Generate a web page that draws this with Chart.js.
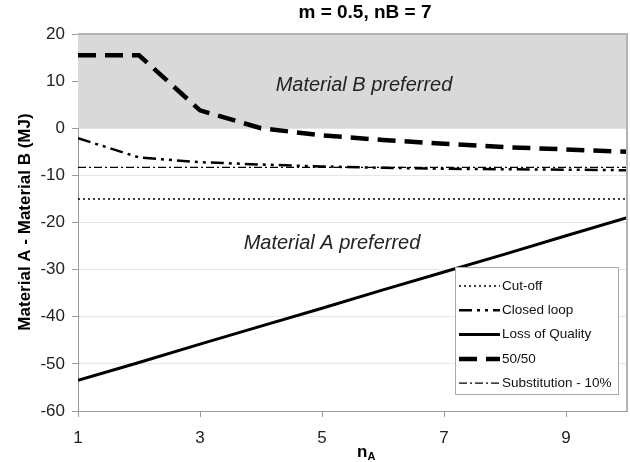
<!DOCTYPE html>
<html>
<head>
<meta charset="utf-8">
<script src="https://cdn.jsdelivr.net/npm/chart.js@4"></script>
<style>
html,body{margin:0;padding:0;background:#fff;}
canvas{display:block;}
</style>
</head>
<body>
<canvas id="c" width="630" height="462"></canvas>
<script>
const nA = [1, 2, 3, 4, 5, 6, 7, 8, 9, 10];
const xTickValues = [1, 3, 5, 7, 9];
const yTickValues = [-60, -50, -40, -30, -20, -10, 0, 10, 20];
const cutOff = [-15, -15, -15, -15, -15, -15, -15, -15, -15, -15];
const closedLoop = [-2.1, -6.2, -7.2, -7.7, -8.1, -8.4, -8.6, -8.7, -8.8, -8.9];
const lossOfQuality = [-53.5, -49.7, -45.8, -42.0, -38.2, -34.3, -30.5, -26.7, -22.8, -19.0];
const fiftyFifty = [15.5, 15.5, 3.8, 0.0, -1.5, -2.5, -3.3, -4.0, -4.5, -5.0];
const substitution10 = [-8.3, -8.3, -8.3, -8.3, -8.3, -8.3, -8.3, -8.3, -8.3, -8.3];
const preferredBand = [20, 20];
const seriesNames = ['Cut-off', 'Closed loop', 'Loss of Quality', '50/50', 'Substitution - 10%'];
const chartTitle = 'm = 0.5, nB = 7';
const yTitle = 'Material A - Material B (MJ)';

const toXY = arr => arr.map((v, i) => ({x: nA[i], y: v}));

const lineStyles = [
  {borderWidth: 1.5, borderDash: [2, 3]},
  {borderWidth: 2.5, borderDash: [13, 5, 3, 5, 3, 5]},
  {borderWidth: 3, borderDash: []},
  {borderWidth: 4.5, borderDash: [18, 9]},
  {borderWidth: 1.3, borderDash: [8, 3, 2, 3]}
];
const seriesData = [cutOff, closedLoop, lossOfQuality, fiftyFifty, substitution10];

const datasets = seriesData.map((d, i) => ({
  label: seriesNames[i],
  data: toXY(d),
  borderColor: '#000',
  backgroundColor: '#000',
  borderWidth: lineStyles[i].borderWidth,
  borderDash: lineStyles[i].borderDash,
  borderCapStyle: 'butt',
  pointRadius: 0,
  fill: false,
  tension: 0,
  order: 1
}));
datasets.push({
  label: 'band',
  data: [{x: nA[0], y: preferredBand[0]}, {x: nA[nA.length - 1], y: preferredBand[1]}],
  borderWidth: 0,
  borderColor: 'rgba(0,0,0,0)',
  backgroundColor: '#d9d9d9',
  pointRadius: 0,
  fill: 'origin',
  order: 10
});

const overlay = {
  id: 'overlay',
  afterDraw(chart) {
    const ctx = chart.ctx;
    const a = chart.chartArea;
    const xs = chart.scales.x, ys = chart.scales.y;
    ctx.save();
    // frame top/right
    ctx.strokeStyle = '#b4b4b4';
    ctx.lineWidth = 2;
    ctx.beginPath();
    ctx.moveTo(a.left, a.top);
    ctx.lineTo(a.right, a.top);
    ctx.lineTo(a.right, a.bottom);
    ctx.stroke();
    // title
    ctx.fillStyle = '#000';
    ctx.textAlign = 'center';
    ctx.textBaseline = 'middle';
    ctx.font = 'bold 19px "Liberation Sans", Arial, sans-serif';
    ctx.fillText(chartTitle, 365, 13);
    // annotations
    ctx.font = 'italic 20px "Liberation Sans", Arial, sans-serif';
    ctx.fillStyle = '#222';
    ctx.fillText('Material B preferred', 364, ys.getPixelForValue(9));
    ctx.fillText('Material A preferred', 332, ys.getPixelForValue(-24.5));
    // y title
    ctx.save();
    ctx.translate(25, 222);
    ctx.rotate(-Math.PI / 2);
    ctx.font = 'bold 17px "Liberation Sans", Arial, sans-serif';
    ctx.fillStyle = '#000';
    ctx.fillText(yTitle, 0, 0);
    ctx.restore();
    // x title n_A
    ctx.textAlign = 'left';
    ctx.textBaseline = 'alphabetic';
    ctx.font = 'bold 17px "Liberation Sans", Arial, sans-serif';
    ctx.fillStyle = '#000';
    ctx.fillText('n', 357, 457);
    ctx.font = 'bold 11px "Liberation Sans", Arial, sans-serif';
    ctx.fillText('A', 367.5, 460);
    // legend
    const lx = 455, ly = 267, lw = 163, lh = 127;
    ctx.fillStyle = '#fff';
    ctx.fillRect(lx, ly, lw, lh);
    ctx.strokeStyle = '#aaa';
    ctx.lineWidth = 1;
    ctx.strokeRect(lx + 0.5, ly + 0.5, lw, lh);
    ctx.font = '13.5px "Liberation Sans", Arial, sans-serif';
    ctx.textBaseline = 'middle';
    seriesNames.forEach((name, i) => {
      const y = ly + 19 + i * 24.3;
      ctx.strokeStyle = '#000';
      ctx.lineWidth = lineStyles[i].borderWidth;
      ctx.setLineDash(lineStyles[i].borderDash);
      ctx.lineCap = 'butt';
      ctx.beginPath();
      ctx.moveTo(lx + 4, y);
      ctx.lineTo(lx + 45, y);
      ctx.stroke();
      ctx.setLineDash([]);
      ctx.fillStyle = '#111';
      ctx.fillText(name, lx + 47, y);
    });
    ctx.restore();
  }
};

new Chart(document.getElementById('c'), {
  type: 'line',
  data: {datasets},
  options: {
    responsive: false,
    animation: false,
    layout: {padding: {top: 34, right: 3, left: 0, bottom: 0}},
    plugins: {legend: {display: false}, title: {display: false}, tooltip: {enabled: false}},
    scales: {
      x: {
        type: 'linear',
        min: 1,
        max: 10,
        afterBuildTicks: s => { s.ticks = xTickValues.map(v => ({value: v})); },
        afterFit: s => { s.height = 51; },
        grid: {drawOnChartArea: false, drawTicks: true, tickLength: 6, color: '#999', tickColor: '#999'},
        border: {color: '#999', width: 1},
        ticks: {padding: 11, color: '#222', font: {family: '"Liberation Sans", Arial, sans-serif', size: 17}, maxRotation: 0, autoSkip: false}
      },
      y: {
        type: 'linear',
        min: -60,
        max: 20,
        afterBuildTicks: s => { s.ticks = yTickValues.map(v => ({value: v})); },
        afterFit: s => { s.width = 78; },
        grid: {color: '#e6e6e6', tickColor: '#999', tickLength: 6, drawTicks: true},
        border: {color: '#999', width: 1},
        ticks: {padding: 7, color: '#222', font: {family: '"Liberation Sans", Arial, sans-serif', size: 17}}
      }
    }
  },
  plugins: [overlay]
});
</script>
</body>
</html>
